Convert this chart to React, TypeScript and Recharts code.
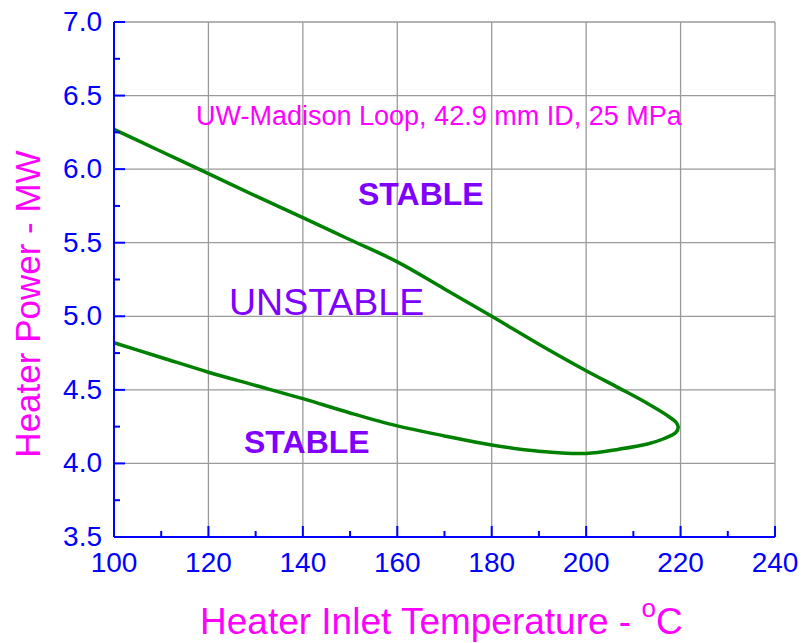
import React from 'react';
import { LineChart, Line, XAxis, YAxis, CartesianGrid } from 'recharts';

// Stability boundary: upper branch left->nose, then lower branch back to the left
const curveTemps = [
  100, 110, 120, 130, 140, 150, 160, 170, 180, 190, 200, 207, 213, 217, 219, 219.5,
  219, 216.3, 213, 207, 200, 190, 180, 170, 160, 150, 140, 130, 120, 110, 100,
];
const curvePowers = [
  6.27, 6.12, 5.97, 5.818, 5.67, 5.52, 5.37, 5.186, 5.0, 4.81, 4.63, 4.512, 4.408, 4.33, 4.28, 4.248,
  4.21, 4.166, 4.132, 4.097, 4.068, 4.083, 4.125, 4.187, 4.255, 4.343, 4.44, 4.53, 4.62, 4.72, 4.82,
];

const xTicks = [100, 110, 120, 130, 140, 150, 160, 170, 180, 190, 200, 210, 220, 230, 240];
const xMajor = [100, 120, 140, 160, 180, 200, 220, 240];
const yTicks = [3.5, 3.75, 4.0, 4.25, 4.5, 4.75, 5.0, 5.25, 5.5, 5.75, 6.0, 6.25, 6.5, 6.75, 7.0];
const yMajor = [3.5, 4.0, 4.5, 5.0, 5.5, 6.0, 6.5, 7.0];

const data = curveTemps.map((t, i) => ({ t, p: curvePowers[i] }));

const AXIS = '#0000FF';
const MAGENTA = '#FF00FF';
const PURPLE = '#8000FF';
const FONT = '"Liberation Sans", Arial, Helvetica, sans-serif';
const MAJOR_LEN = 11;
const MINOR_LEN = 6;

const near = (a: number, b: number) => Math.abs(a - b) < 1e-6;
const isMajorX = (v: number) => xMajor.some((m) => near(m, v));
const isMajorY = (v: number) => yMajor.some((m) => near(m, v));

// Centripetal Catmull-Rom curve factory (handles unevenly spaced points on the loop)
function centripetalCurve(context: any) {
  let pts: number[][] = [];
  const EPS = 1e-9;
  return {
    areaStart() {},
    areaEnd() {},
    lineStart() {
      pts = [];
    },
    point(x: number, y: number) {
      pts.push([+x, +y]);
    },
    lineEnd() {
      if (!pts.length) return;
      context.moveTo(pts[0][0], pts[0][1]);
      for (let i = 0; i < pts.length - 1; i++) {
        const p0 = pts[i - 1] || pts[i];
        const p1 = pts[i];
        const p2 = pts[i + 1];
        const p3 = pts[i + 2] || p2;
        // with alpha = 0.5: l_2a = distance, l_a = sqrt(distance)
        const d01 = Math.hypot(p1[0] - p0[0], p1[1] - p0[1]);
        const d12 = Math.hypot(p2[0] - p1[0], p2[1] - p1[1]);
        const d23 = Math.hypot(p3[0] - p2[0], p3[1] - p2[1]);
        const l01a = Math.sqrt(d01);
        const l12a = Math.sqrt(d12);
        const l23a = Math.sqrt(d23);
        let c1x: number;
        let c1y: number;
        let c2x: number;
        let c2y: number;
        if (l01a > EPS) {
          const a = 2 * d01 + 3 * l01a * l12a + d12;
          const n = 3 * l01a * (l01a + l12a);
          c1x = (p1[0] * a - p0[0] * d12 + p2[0] * d01) / n;
          c1y = (p1[1] * a - p0[1] * d12 + p2[1] * d01) / n;
        } else {
          c1x = p1[0] + (p2[0] - p1[0]) / 3;
          c1y = p1[1] + (p2[1] - p1[1]) / 3;
        }
        if (l23a > EPS) {
          const b = 2 * d23 + 3 * l23a * l12a + d12;
          const m = 3 * l23a * (l23a + l12a);
          c2x = (p2[0] * b + p1[0] * d23 - p3[0] * d12) / m;
          c2y = (p2[1] * b + p1[1] * d23 - p3[1] * d12) / m;
        } else {
          c2x = p2[0] - (p2[0] - p1[0]) / 3;
          c2y = p2[1] - (p2[1] - p1[1]) / 3;
        }
        context.bezierCurveTo(c1x, c1y, c2x, c2y, p2[0], p2[1]);
      }
    },
  };
}

function BottomTick(props: any) {
  const { x, y, payload } = props;
  const major = isMajorX(payload.value);
  return (
    <g>
      <line x1={x} y1={y} x2={x} y2={y - (major ? MAJOR_LEN : MINOR_LEN)} stroke={AXIS} strokeWidth={2} />
      {major && (
        <text x={x} y={y + 35} textAnchor="middle" fill={AXIS} fontSize={28} fontFamily={FONT}>
          {payload.value}
        </text>
      )}
    </g>
  );
}

function TopTick(props: any) {
  const { x, y, payload } = props;
  const major = isMajorX(payload.value);
  return <line x1={x} y1={y} x2={x} y2={y + (major ? MAJOR_LEN : MINOR_LEN)} stroke={AXIS} strokeWidth={2} />;
}

function LeftTick(props: any) {
  const { x, y, payload } = props;
  const major = isMajorY(payload.value);
  return (
    <g>
      <line x1={x} y1={y} x2={x + (major ? MAJOR_LEN : MINOR_LEN)} y2={y} stroke={AXIS} strokeWidth={2} />
      {major && (
        <text x={x - 12} y={y + 9} textAnchor="end" fill={AXIS} fontSize={28} fontFamily={FONT}>
          {Number(payload.value).toFixed(1)}
        </text>
      )}
    </g>
  );
}

function RightTick(props: any) {
  const { x, y, payload } = props;
  const major = isMajorY(payload.value);
  return <line x1={x} y1={y} x2={x - (major ? MAJOR_LEN : MINOR_LEN)} y2={y} stroke={AXIS} strokeWidth={2} />;
}

export default function App() {
  return (
    <div style={{ position: 'absolute', left: 0, top: 0, width: 804, height: 643, background: '#fff' }}>
      <LineChart width={804} height={643} data={data} margin={{ top: 22, right: 29, left: 0, bottom: 0 }}>
        <CartesianGrid
          xAxisId="bottom"
          yAxisId="left"
          stroke="#9a9a9a"
          strokeWidth={1.3}
          verticalValues={xMajor}
          horizontalValues={yMajor}
        />
        <XAxis
          xAxisId="bottom"
          dataKey="t"
          type="number"
          domain={[100, 240]}
          ticks={xTicks}
          interval={0}
          height={106}
          tickSize={0}
          tickMargin={0}
          tickLine={false}
          axisLine={{ stroke: AXIS, strokeWidth: 2 }}
          tick={<BottomTick />}
        />
        <XAxis
          xAxisId="top"
          orientation="top"
          type="number"
          domain={[100, 240]}
          ticks={xTicks}
          interval={0}
          height={0}
          tickSize={0}
          tickMargin={0}
          tickLine={false}
          axisLine={{ stroke: AXIS, strokeWidth: 2 }}
          tick={<TopTick />}
        />
        <YAxis
          yAxisId="left"
          type="number"
          domain={[3.5, 7]}
          ticks={yTicks}
          interval={0}
          width={114}
          tickSize={0}
          tickMargin={0}
          tickLine={false}
          axisLine={{ stroke: AXIS, strokeWidth: 2 }}
          tick={<LeftTick />}
        />
        <YAxis
          yAxisId="right"
          orientation="right"
          type="number"
          domain={[3.5, 7]}
          ticks={yTicks}
          interval={0}
          width={0}
          tickSize={0}
          tickMargin={0}
          tickLine={false}
          axisLine={{ stroke: AXIS, strokeWidth: 2 }}
          tick={<RightTick />}
        />
        <Line
          xAxisId="bottom"
          yAxisId="left"
          dataKey="p"
          type={centripetalCurve as any}
          stroke="#008000"
          strokeWidth={3.5}
          dot={false}
          activeDot={false}
          isAnimationActive={false}
        />
      </LineChart>
      <svg
        width={804}
        height={643}
        style={{ position: 'absolute', left: 0, top: 0, pointerEvents: 'none' }}
        fontFamily={FONT}
      >
        <text x={196} y={125} fill={MAGENTA} fontSize={27}>
          UW-Madison Loop, 42.9 mm ID, 25 MPa
        </text>
        <text x={358} y={205} fill={PURPLE} fontSize={32} fontWeight="bold">
          STABLE
        </text>
        <text x={229} y={315} fill={PURPLE} fontSize={37.5}>
          UNSTABLE
        </text>
        <text x={244} y={453} fill={PURPLE} fontSize={32} fontWeight="bold">
          STABLE
        </text>
        <text x={200} y={634} fill={MAGENTA} fontSize={37}>
          Heater Inlet Temperature -{' '}
          <tspan fontSize={26} dy={-17}>o</tspan>
          <tspan dy={17}>C</tspan>
        </text>
        <text x={40} y={304} fill={MAGENTA} fontSize={35} textAnchor="middle" transform="rotate(-90 40 304)">
          Heater Power - MW
        </text>
      </svg>
    </div>
  );
}
